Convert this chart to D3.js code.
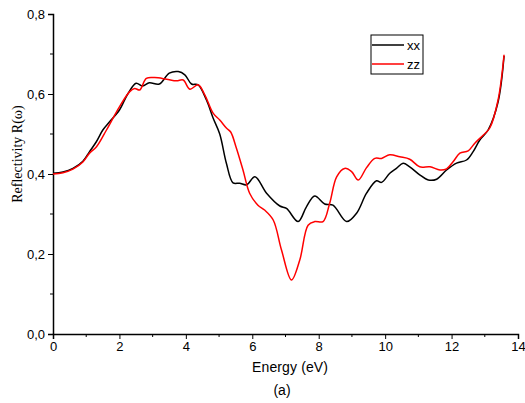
<!DOCTYPE html>
<html>
<head>
<meta charset="utf-8">
<script src="https://cdn.jsdelivr.net/npm/d3@7"></script>
<style>
  body { margin: 0; background: #fff; }
  svg { display: block; }
</style>
</head>
<body>
<div id="chart"></div>
<script>
// ── Data ──────────────────────────────────────────────────────────────────────
const xxE = [0, 0.3, 0.6, 0.9, 1.1, 1.3, 1.5, 1.71, 2.0, 2.25, 2.5, 2.7, 2.9, 3.2, 3.5, 3.77, 3.97, 4.17, 4.37, 4.62, 4.82, 5.02, 5.22, 5.42, 5.62, 5.83, 6.08, 6.43, 6.83, 7.03, 7.38, 7.63, 7.88, 8.18, 8.43, 8.84, 9.14, 9.44, 9.74, 9.89, 10.14, 10.34, 10.54, 10.74, 11.04, 11.3, 11.55, 11.85, 12.15, 12.45, 12.65, 12.85, 13.1, 13.4, 13.58];
const xxR = [0.402, 0.405, 0.414, 0.432, 0.456, 0.48, 0.51, 0.531, 0.56, 0.60, 0.627, 0.62, 0.628, 0.625, 0.652, 0.656, 0.648, 0.625, 0.623, 0.585, 0.54, 0.50, 0.427, 0.378, 0.377, 0.373, 0.393, 0.352, 0.32, 0.314, 0.281, 0.318, 0.345, 0.325, 0.322, 0.281, 0.302, 0.352, 0.383, 0.379, 0.402, 0.414, 0.427, 0.418, 0.398, 0.385, 0.387, 0.41, 0.427, 0.435, 0.456, 0.485, 0.51, 0.58, 0.695];

const zzE = [0, 0.3, 0.6, 0.9, 1.1, 1.31, 1.61, 2.0, 2.31, 2.46, 2.61, 2.81, 3.06, 3.42, 3.72, 3.92, 4.12, 4.37, 4.57, 4.82, 5.02, 5.22, 5.35, 5.52, 5.72, 5.92, 6.17, 6.37, 6.63, 6.88, 7.18, 7.43, 7.68, 7.88, 8.13, 8.33, 8.54, 8.78, 8.99, 9.19, 9.44, 9.69, 9.89, 10.14, 10.44, 10.74, 11.04, 11.35, 11.65, 11.85, 12.05, 12.25, 12.5, 12.7, 12.95, 13.15, 13.4, 13.58];
const zzR = [0.400, 0.403, 0.412, 0.43, 0.452, 0.468, 0.51, 0.568, 0.606, 0.614, 0.61, 0.639, 0.641, 0.637, 0.633, 0.635, 0.612, 0.623, 0.598, 0.552, 0.535, 0.515, 0.505, 0.465, 0.41, 0.352, 0.322, 0.31, 0.285, 0.21, 0.135, 0.185, 0.272, 0.281, 0.281, 0.327, 0.393, 0.414, 0.406, 0.385, 0.416, 0.439, 0.439, 0.448, 0.443, 0.437, 0.418, 0.418, 0.41, 0.413, 0.431, 0.452, 0.458, 0.477, 0.497, 0.515, 0.585, 0.698];

const xTicks = [0, 2, 4, 6, 8, 10, 12, 14];
const yTicks = [0, 0.2, 0.4, 0.6, 0.8];
const seriesNames = ["xx", "zz"];
const seriesColors = ["#000000", "#ff0000"];

// ── Dimensions ────────────────────────────────────────────────────────────────
const W = 525, H = 403;
const margin = { top: 14, right: 7, bottom: 69, left: 53 };
const width  = W - margin.left - margin.right;
const height = H - margin.top - margin.bottom;

const svg = d3.select("#chart").append("svg")
  .attr("width", W).attr("height", H);
const g = svg.append("g")
  .attr("transform", `translate(${margin.left},${margin.top})`);

// ── Scales ────────────────────────────────────────────────────────────────────
const x = d3.scaleLinear().domain([0, 14]).range([0, width]);
const y = d3.scaleLinear().domain([0, 0.8]).range([height, 0]);
const fmt = d => d3.format(".1f")(d).replace(".", ",");

// ── Axes ──────────────────────────────────────────────────────────────────────
const minorX = d3.range(1, 14, 2);
const minorY = [0.1, 0.3, 0.5, 0.7];

const xAxis = g.append("g").attr("transform", `translate(0,${height})`)
  .call(d3.axisBottom(x).tickValues(xTicks).tickSize(5).tickPadding(3).tickFormat(d3.format("d")));
xAxis.selectAll(".minor").data(minorX).enter().append("line")
  .attr("x1", d => x(d)).attr("x2", d => x(d)).attr("y1", 0).attr("y2", 3)
  .attr("stroke", "#000");

const yAxis = g.append("g")
  .call(d3.axisLeft(y).tickValues(yTicks).tickSize(5).tickPadding(3).tickFormat(fmt));
yAxis.selectAll(".minor").data(minorY).enter().append("line")
  .attr("x1", 0).attr("x2", -3).attr("y1", d => y(d)).attr("y2", d => y(d))
  .attr("stroke", "#000");

[xAxis, yAxis].forEach(a => {
  a.select(".domain").attr("stroke", "#000").attr("stroke-width", 1.5);
  a.selectAll("text").attr("font-family", "Liberation Sans, Arial, sans-serif")
    .attr("font-size", 13).attr("fill", "#000");
});

// ── Lines ─────────────────────────────────────────────────────────────────────
const line = d3.line().x(d => x(d[0])).y(d => y(d[1])).curve(d3.curveCatmullRom.alpha(0.5));
const series = [d3.zip(xxE, xxR), d3.zip(zzE, zzR)];
series.forEach((s, i) => {
  g.append("path").datum(s)
    .attr("fill", "none")
    .attr("stroke", seriesColors[i])
    .attr("stroke-width", 1.5)
    .attr("d", line);
});

// ── Labels ────────────────────────────────────────────────────────────────────
svg.append("text")
  .attr("x", 290).attr("y", 372)
  .attr("text-anchor", "middle")
  .attr("font-family", "Liberation Sans, Arial, sans-serif")
  .attr("font-size", 14)
  .attr("textLength", 76)
  .text("Energy (eV)");

svg.append("text")
  .attr("x", 282).attr("y", 395)
  .attr("text-anchor", "middle")
  .attr("font-family", "Liberation Sans, Arial, sans-serif")
  .attr("font-size", 14)
  .text("(a)");

svg.append("text")
  .attr("transform", `translate(22,${margin.top + y(0.45)}) rotate(-90)`)
  .attr("text-anchor", "middle")
  .attr("font-family", "Liberation Serif, Times New Roman, serif")
  .attr("font-size", 14)
  .text("Reflectivity R(ω)");

// ── Legend ────────────────────────────────────────────────────────────────────
const leg = svg.append("g").attr("transform", "translate(371,35)");
leg.append("rect").attr("width", 52).attr("height", 39)
  .attr("fill", "#fff").attr("stroke", "#000").attr("stroke-width", 1);
seriesNames.forEach((n, i) => {
  const ly = 10 + i * 19;
  leg.append("line").attr("x1", 1).attr("x2", 33).attr("y1", ly).attr("y2", ly)
    .attr("stroke", seriesColors[i]).attr("stroke-width", 1.5);
  leg.append("text").attr("x", 36).attr("y", ly + 5)
    .attr("font-family", "Liberation Sans, Arial, sans-serif")
    .attr("font-size", 13)
    .text(n);
});
</script>
</body>
</html>
